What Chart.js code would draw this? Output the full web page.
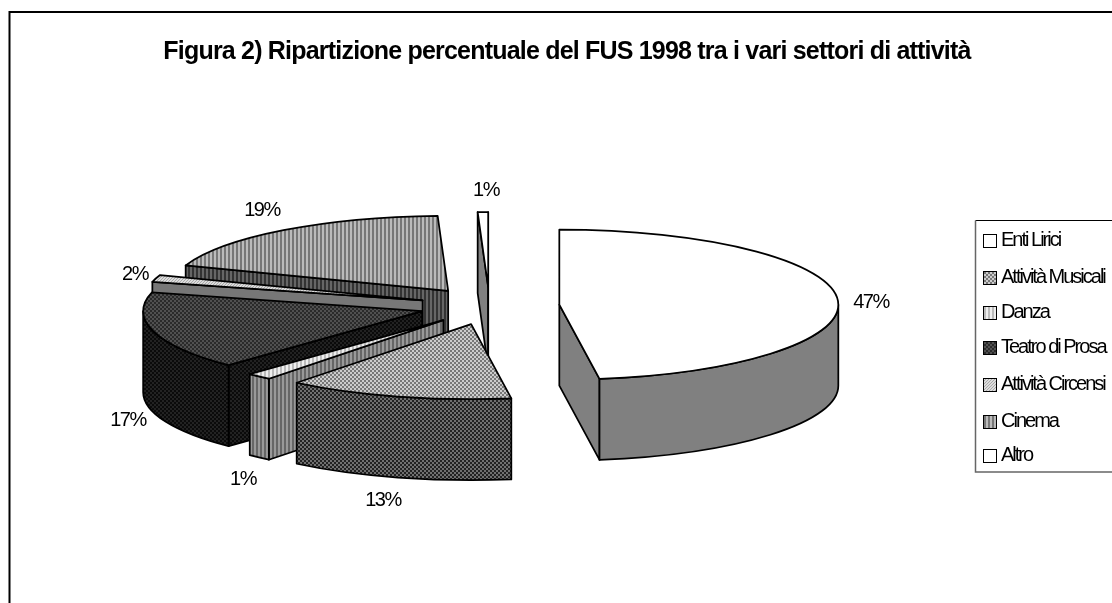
<!DOCTYPE html>
<html>
<head>
<meta charset="utf-8">
<script src="https://cdn.jsdelivr.net/npm/chart.js@4/dist/chart.umd.min.js"></script>
<style>
  html, body { margin: 0; padding: 0; background: #fff; overflow: hidden; }
  canvas { display: block; }
</style>
</head>
<body>
<canvas id="pie" width="1112" height="603"></canvas>
<script>
const chartTitle = "Figura 2) Ripartizione percentuale del FUS 1998 tra i vari settori di attività";
const categories = ["Enti Lirici", "Attività Musicali", "Danza", "Teatro di Prosa", "Attività Circensi", "Cinema", "Altro"];
const shares = [47.7, 13.05, 1.45, 16.8, 1.5, 18.9, 0.6];
const percentLabels = ["47%", "13%", "1%", "17%", "2%", "19%", "1%"];

// look of the fake 3D pie
const EXPLODE = 70; // how far every slice is pulled out, before squashing
const SQUASH = 0.269;
const DEPTH = 81;
const RADIUS = 279;

// centre of each percent label, same order as categories
const labelSpots = [[871, 302], [383, 500], [243, 479], [128, 420], [135, 274], [262, 210], [486, 190]];
const legendRows = [240, 277, 312, 347, 384, 421, 455];

function tile(kind, a, b) {
  const c = document.createElement("canvas");
  const g = c.getContext("2d");
  const size = kind === "diag" ? 3 : 4;
  c.width = c.height = size;
  g.fillStyle = b;
  g.fillRect(0, 0, size, size);
  g.fillStyle = a;
  if (kind === "check") {
    g.fillRect(0, 0, 2, 2);
    g.fillRect(2, 2, 2, 2);
  } else if (kind === "stripe") {
    g.fillRect(0, 0, 2, 4);
  } else {
    for (let i = 0; i < 3; i++) g.fillRect(i, 2 - i, 1, 1);
  }
  return g.createPattern(c, "repeat");
}

const topFills = [
  "#ffffff",
  tile("check", "#777777", "#cccccc"),
  tile("stripe", "#bbbbbb", "#eeeeee"),
  tile("check", "#2a2a2a", "#505050"),
  tile("diag", "#aaaaaa", "#dddddd"),
  tile("stripe", "#777777", "#bbbbbb"),
  "#ffffff",
];
const wallFills = [
  "#808080",
  tile("check", "#222222", "#707070"),
  tile("stripe", "#666666", "#999999"),
  tile("check", "#0a0a0a", "#222222"),
  "#777777",
  tile("stripe", "#333333", "#666666"),
  "#808080",
];

function drawSlice(ctx, arc, i) {
  const mid = (arc.startAngle + arc.endAngle) / 2;
  const cx = arc.x + Math.cos(mid) * EXPLODE;
  const cy = arc.y + Math.sin(mid) * EXPLODE * SQUASH;
  const rx = arc.outerRadius;
  const ry = rx * SQUASH;
  const rim = (a) => [cx + Math.cos(a) * rx, cy + Math.sin(a) * ry];
  const inner = rim(mid).map((v, n) => (n ? cy + (v - cy) / 2 : cx + (v - cx) / 2));

  ctx.lineWidth = 1.75;
  ctx.strokeStyle = "#000";
  ctx.lineJoin = "round";

  // the two cut faces, only where they look towards the viewer
  [arc.startAngle, arc.endAngle].forEach((a) => {
    const p = rim(a);
    const ex = p[0] - cx;
    const ey = p[1] - cy;
    let nx = -ey;
    let ny = ex;
    if (nx * (inner[0] - cx) + ny * (inner[1] - cy) > 0) {
      nx = -nx;
      ny = -ny;
    }
    if (ny <= 0) return;
    ctx.beginPath();
    ctx.moveTo(cx, cy);
    ctx.lineTo(p[0], p[1]);
    ctx.lineTo(p[0], p[1] + DEPTH);
    ctx.lineTo(cx, cy + DEPTH);
    ctx.closePath();
    ctx.fillStyle = wallFills[i];
    ctx.fill();
    ctx.stroke();
  });

  // rounded outer wall, front half only
  const from = Math.max(arc.startAngle, 0);
  const to = Math.min(arc.endAngle, Math.PI);
  if (to > from) {
    ctx.beginPath();
    ctx.ellipse(cx, cy, rx, ry, 0, from, to);
    ctx.ellipse(cx, cy + DEPTH, rx, ry, 0, to, from, true);
    ctx.closePath();
    ctx.fillStyle = wallFills[i];
    ctx.fill();
    ctx.stroke();
  }

  // top face
  ctx.beginPath();
  ctx.moveTo(cx, cy);
  ctx.ellipse(cx, cy, rx, ry, 0, arc.startAngle, arc.endAngle);
  ctx.closePath();
  ctx.fillStyle = topFills[i];
  ctx.fill();
  ctx.stroke();
}

const pie3d = {
  id: "pie3d",
  beforeDatasetsDraw(chart) {
    const ctx = chart.ctx;
    const arcs = chart.getDatasetMeta(0).data;
    const frontY = (arc) => arc.y + Math.sin((arc.startAngle + arc.endAngle) / 2) * EXPLODE * SQUASH;
    ctx.save();
    arcs.map((arc, i) => ({ arc, i }))
      .sort((a, b) => frontY(a.arc) - frontY(b.arc))
      .forEach(({ arc, i }) => drawSlice(ctx, arc, i));
    ctx.restore();
    return false;
  },
  afterDraw(chart) {
    const ctx = chart.ctx;
    ctx.save();

    // outer frame runs off the right and bottom of the picture
    ctx.strokeStyle = "#000";
    ctx.lineWidth = 2;
    ctx.beginPath();
    ctx.moveTo(9.5, 603);
    ctx.lineTo(9.5, 12);
    ctx.lineTo(1112, 12);
    ctx.stroke();

    ctx.fillStyle = "#000";
    ctx.textBaseline = "middle";

    ctx.textAlign = "center";
    ctx.font = "bold 25px 'Liberation Sans'";
    ctx.letterSpacing = "-0.8px";
    ctx.fillText(chartTitle, 567, 52);

    ctx.font = "20px 'Liberation Sans'";
    ctx.letterSpacing = "-1.5px";
    percentLabels.forEach((text, i) => {
      ctx.fillText(text, labelSpots[i][0], labelSpots[i][1]);
    });

    // legend box
    ctx.strokeStyle = "#000";
    ctx.lineWidth = 1;
    ctx.beginPath();
    ctx.moveTo(975.5, 220.5);
    ctx.lineTo(1112, 220.5);
    ctx.stroke();
    ctx.strokeStyle = "#666";
    ctx.lineWidth = 1.5;
    ctx.beginPath();
    ctx.moveTo(975.5, 220.5);
    ctx.lineTo(975.5, 472);
    ctx.lineTo(1112, 472);
    ctx.stroke();

    ctx.textAlign = "left";
    ctx.font = "20px 'Liberation Sans'";
    ctx.letterSpacing = "-2px";
    categories.forEach((name, i) => {
      const y = legendRows[i];
      ctx.fillStyle = topFills[i];
      ctx.fillRect(983, y - 6, 13, 13);
      ctx.strokeStyle = "#000";
      ctx.lineWidth = 1;
      ctx.strokeRect(983.5, y - 5.5, 13, 13);
      ctx.fillStyle = "#000";
      ctx.fillText(name, 1001, y);
    });
    ctx.restore();
  },
};

new Chart(document.getElementById("pie"), {
  type: "pie",
  data: {
    labels: categories,
    datasets: [{
      data: shares,
      backgroundColor: topFills,
      radius: RADIUS,
    }],
  },
  options: {
    responsive: false,
    animation: false,
    layout: { padding: { right: 133, top: 9 } },
    plugins: {
      legend: { display: false },
      title: { display: false },
      tooltip: { enabled: false },
    },
  },
  plugins: [pie3d],
});
</script>
</body>
</html>
